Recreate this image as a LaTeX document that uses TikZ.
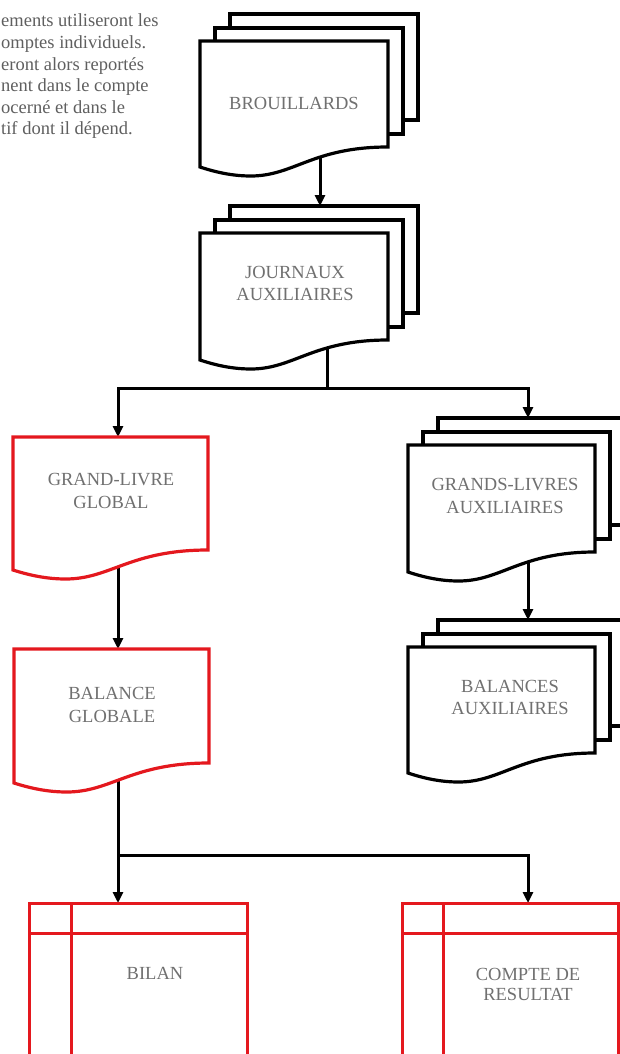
\documentclass[tikz,border=0pt]{standalone}
\usepackage{fontspec}
\setmainfont{Liberation Serif}
\usetikzlibrary{arrows.meta}
\definecolor{docred}{RGB}{228,24,30}
\definecolor{txtgray}{RGB}{112,112,112}
\definecolor{notegray}{RGB}{95,95,95}
\pgfdeclarelayer{bg}
\pgfsetlayers{bg,main}
\tikzset{
  pageline/.style={draw=black, line width=3.2pt, fill=white},
  redline/.style={draw=docred, line width=3.2pt, fill=white},
  tabline/.style={draw=docred, line width=3pt},
  conn/.style={draw=black, line width=3pt},
  arr/.style={conn, -{Triangle[length=11pt,width=10pt]}},
  lbl/.style={font=\fontsize{18.5}{22.5}\selectfont, text=txtgray, align=center, inner sep=0pt},
  note/.style={font=\fontsize{18.5}{21.6}\selectfont, text=notegray, align=left, inner sep=0pt}
}
% front page of a document symbol: left x, top y, width, left height, style
\newcommand\DocFront[5]{%
  \draw[#5] (#1,#2) -- ({#1+#3},#2) -- ({#1+#3},{#2+#4-20})
    .. controls ({#1+0.6*#3},{#2+#4-20}) and ({#1+0.5*#3},{#2+#4+9}) .. ({#1+0.27*#3},{#2+#4+9})
    .. controls ({#1+0.17*#3},{#2+#4+9}) and ({#1+0.08*#3},{#2+#4+5}) .. (#1,{#2+#4}) -- cycle;}
% stack of three pages
\newcommand\DocStack[4]{%
  \draw[pageline] ({#1+30},{#2-27}) rectangle ({#1+30+#3},{#2+#4-47});
  \draw[pageline] ({#1+15},{#2-13}) rectangle ({#1+15+#3},{#2+#4-33});
  \DocFront{#1}{#2}{#3}{#4}{pageline}}
\begin{document}
\begin{tikzpicture}[x=1pt,y=-1pt]
\useasboundingbox (0,0) rectangle (620,1054);
\clip (0,0) rectangle (620,1054);

% note text
\node[note, anchor=base west] (note) at (1,135) {ements utiliseront les\\omptes individuels.\\eront alors report\'es\\nent dans le compte\\ocern\'e et dans le\\tif dont il d\'epend.};

% shapes
\DocStack{200}{41}{188}{126}
\DocStack{200}{233}{188}{127}
\DocStack{408}{445}{187}{127}
\DocStack{408}{647}{187}{126}
\DocFront{13}{437}{195}{133}{redline}
\DocFront{14}{649}{195}{134}{redline}

\draw[tabline] (29,903) rectangle (247,1080);
\draw[tabline] (29,933) -- (247,933) (71,903) -- (71,1080);
\draw[tabline] (402,903) rectangle (618,1080);
\draw[tabline] (402,933) -- (618,933) (443,903) -- (443,1080);

% labels
\node[lbl] (brouilT) at (294,103) {BROUILLARDS};
\node[lbl] (journT) at (295,283.5) {JOURNAUX\\AUXILIAIRES};
\node[lbl] (glT) at (111,491) {GRAND-LIVRE\\GLOBAL};
\node[lbl] (gaT) at (505,496) {GRANDS-LIVRES\\AUXILIAIRES};
\node[lbl] (bgT) at (112,705) {BALANCE\\GLOBALE};
\node[lbl] (baT) at (510,697.5) {BALANCES\\AUXILIAIRES};
\node[lbl] (biT) at (155,973) {BILAN};
\node[lbl, font=\fontsize{18.5}{20}\selectfont] (crT) at (528,984) {COMPTE DE\\RESULTAT};

% connector points
\coordinate (brOut) at (320,150);
\coordinate (jnIn) at (320,206);
\coordinate (jnOut) at (327,345);
\coordinate (split1) at (327,388);
\coordinate (glIn) at (118,437);
\coordinate (gaIn) at (528,418);
\coordinate (glOut) at (118,560);
\coordinate (bgIn) at (118,649);
\coordinate (gaOut) at (528,560);
\coordinate (baIn) at (528,620);
\coordinate (bgOut) at (118,775);
\coordinate (split2) at (118,855);
\coordinate (biIn) at (118,903);
\coordinate (crIn) at (528,903);

\begin{pgfonlayer}{bg}
\draw[arr] (brOut) -- (jnIn);
\draw[conn] (jnOut) -- (split1);
\draw[arr] (split1) -| (glIn);
\draw[arr] (split1) -| (gaIn);
\draw[arr] (glOut) -- (bgIn);
\draw[arr] (gaOut) -- (baIn);
\draw[arr] (bgOut) -- (biIn);
\draw[arr] (split2) -| (crIn);
\end{pgfonlayer}
\end{tikzpicture}
\end{document}
